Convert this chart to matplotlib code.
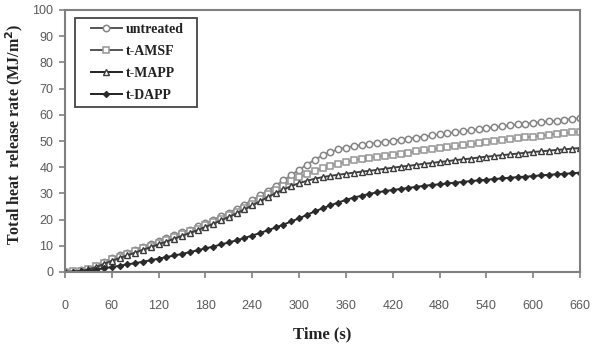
import matplotlib
matplotlib.use("Agg")
import matplotlib.pyplot as plt
from matplotlib.patches import Rectangle
import numpy as np

time_s = list(range(0, 661, 10))

untreated = [0.0, 0.2, 0.6, 1.3, 2.4, 3.8, 5.2, 6.3, 7.4, 8.5, 9.6, 10.7, 11.8, 12.9, 14.0,
             15.1, 16.2, 17.4, 18.6, 19.9, 21.2, 22.6, 24.1, 25.7, 27.4, 29.2, 31.1, 33.0,
             35.0, 37.0, 39.0, 41.0, 42.8, 44.5, 45.8, 46.8, 47.5, 48.0, 48.5, 48.9, 49.3,
             49.7, 50.1, 50.5, 50.9, 51.3, 51.7, 52.1, 52.5, 52.9, 53.3, 53.7, 54.1, 54.5,
             54.9, 55.3, 55.6, 56.0, 56.3, 56.6, 56.9, 57.2, 57.5, 57.8, 58.1, 58.4, 58.7]

t_amsf = [0.0, 0.2, 0.5, 1.2, 2.2, 3.5, 4.8, 5.9, 7.0, 8.0, 9.1, 10.1, 11.2, 12.2, 13.3,
          14.4, 15.5, 16.6, 17.8, 19.0, 20.3, 21.6, 23.0, 24.5, 26.1, 27.8, 29.6, 31.3,
          33.0, 34.6, 36.1, 37.4, 38.6, 39.7, 40.6, 41.4, 42.1, 42.7, 43.2, 43.6, 44.0,
          44.4, 44.8, 45.2, 45.6, 46.0, 46.4, 46.8, 47.2, 47.6, 48.0, 48.4, 48.7, 49.1,
          49.5, 49.9, 50.3, 50.6, 51.0, 51.4, 51.7, 52.0, 52.4, 52.7, 53.0, 53.3, 53.6]

t_mapp = [0.0, 0.1, 0.4, 1.0, 1.9, 3.1, 4.3, 5.3, 6.4, 7.4, 8.5, 9.5, 10.6, 11.6, 12.7,
          13.8, 14.9, 16.0, 17.2, 18.4, 19.7, 21.0, 22.4, 23.9, 25.4, 27.0, 28.6, 30.1,
          31.5, 32.8, 33.9, 34.8, 35.6, 36.2, 36.7, 37.1, 37.5, 37.9, 38.3, 38.6, 39.0,
          39.4, 39.8, 40.2, 40.5, 40.9, 41.3, 41.6, 42.0, 42.3, 42.7, 43.0, 43.3, 43.7,
          44.0, 44.3, 44.6, 44.9, 45.2, 45.5, 45.8, 46.1, 46.3, 46.6, 46.8, 47.1, 47.3]

t_dapp = [0.0, 0.1, 0.2, 0.5, 0.9, 1.4, 1.9, 2.4, 2.9, 3.4, 3.9, 4.5, 5.1, 5.7, 6.3,
          6.9, 7.6, 8.3, 9.0, 9.7, 10.5, 11.3, 12.1, 13.0, 13.9, 14.9, 15.9, 17.0,
          18.1, 19.3, 20.5, 21.8, 23.1, 24.3, 25.4, 26.5, 27.5, 28.4, 29.1, 29.8, 30.4,
          30.9, 31.3, 31.7, 32.1, 32.5, 32.9, 33.2, 33.5, 33.8, 34.1, 34.4, 34.7, 35.0,
          35.2, 35.5, 35.7, 36.0, 36.2, 36.4, 36.6, 36.9, 37.1, 37.3, 37.5, 37.7, 37.9]

labels = ["untreated", "t-AMSF", "t-MAPP", "t-DAPP"]
x_ticks = list(range(0, 661, 60))
y_ticks = list(range(0, 101, 10))

W, H = 593, 346
fig = plt.figure(figsize=(W/100, H/100), dpi=100)
ax = fig.add_axes([65/W, 1-272/H, (580-65)/W, (272-10)/H])

styles = [
    dict(color="#8a8a8a", marker="o", mfc="white", mec="#858585", ms=4.6, mew=1.1),
    dict(color="#9a9a9a", marker="s", mfc="white", mec="#959595", ms=4.4, mew=1.1),
    dict(color="#404040", marker="^", mfc="white", mec="#3a3a3a", ms=4.8, mew=1.0),
    dict(color="#2a2a2a", marker="D", mfc="#2a2a2a", mec="#2a2a2a", ms=3.2, mew=0.8),
]
series = [untreated, t_amsf, t_mapp, t_dapp]
for lab, ys, st in zip(labels, series, styles):
    ax.plot(time_s, ys, lw=1.4, label=lab, **st)

ax.set_xlim(0, 660)
ax.set_ylim(0, 100)
ax.set_xticks(x_ticks)
ax.set_yticks(y_ticks)
ax.tick_params(axis="both", direction="out", length=4.5, width=1.2, color="#808080",
               labelsize=9, labelcolor="#595959", pad=4)
ax.tick_params(axis="x", pad=16)
for lab in ax.get_xticklabels() + ax.get_yticklabels():
    lab.set_family("Liberation Sans")
for sp in ax.spines.values():
    sp.set_color("#808080")
    sp.set_linewidth(1.5)

ax.set_xlabel("Time (s)", family="Liberation Serif", fontweight="bold", fontsize=12,
              color="#222222", labelpad=10)
ax.set_ylabel("Total heat  release rate (MJ/m$^\\mathbf{2}$)", family="Liberation Serif",
              fontweight="bold", fontsize=11.5, color="#222222")
ax.yaxis.set_label_coords(-0.078, 0.525)

# legend frame drawn separately so that its padding matches the reference
ax.add_patch(Rectangle((75/W, 1-107/H), 122/W, 89/H, transform=fig.transFigure,
                       clip_on=False, facecolor="white", edgecolor="#444444",
                       linewidth=1.3, zorder=4.5))
leg = ax.legend(loc="upper left", bbox_to_anchor=(91/W, 1-23/H),
                bbox_transform=fig.transFigure, borderaxespad=0,
                prop=dict(family="Liberation Serif", weight="bold", size=10),
                frameon=False, handlelength=2.2, labelspacing=0.65,
                borderpad=0, handletextpad=0.3)
leg.set_zorder(5)
for t in leg.get_texts():
    t.set_color("#222222")
for h, c in zip(leg.legend_handles, ["#555555", "#555555", "#222222", "#222222"]):
    h.set_color(c)

fig.savefig("out.png", dpi=100)
